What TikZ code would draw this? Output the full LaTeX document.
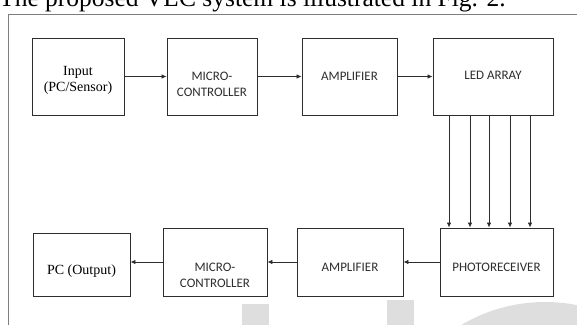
\documentclass[tikz,border=0pt]{standalone}
\usepackage{fontspec}
\setmainfont{Liberation Serif}
\newfontfamily\capsfont{Carlito}
\usetikzlibrary{arrows.meta}
\definecolor{framegray}{RGB}{125,125,125}
\definecolor{markgray}{RGB}{222,222,222}
\definecolor{boxline}{RGB}{45,45,45}

\begin{document}
\begin{tikzpicture}[x=1pt,y=-1pt,
    box/.style={draw=boxline,line width=0.9pt,inner sep=0pt},
    caps/.style={font=\capsfont\fontsize{13}{16}\selectfont,align=center,text=boxline},
    serif/.style={font=\fontsize{14}{16.5}\selectfont,align=center},
    arr/.style={-{Latex[length=5pt,width=4.5pt]},line width=0.8pt,boxline}]
  \useasboundingbox (0,0) rectangle (577,324);
  \clip (0,0) rectangle (577,324);
  % page around the figure: cut caption, frame, watermark
  \node[anchor=base west,inner sep=0pt,font=\fontsize{25.5}{30}\selectfont] (caption) at (-1,6)
    {The proposed VLC system is illustrated in Fig. 2.};
  \fill[markgray] (242,304) rectangle (269,330);
  \fill[markgray] (387,300) rectangle (414,330);
  \fill[markgray] (545,466) circle (164);
  \draw[framegray,line width=1pt] (8,14) rectangle (600,340);
  % transmitter chain
  \node[box,minimum width=92pt,minimum height=77pt,
    label={[serif,name=inptxt,yshift=-4pt]center:Input\\(PC/Sensor)}] (inp) at (78,76.5) {};
  \node[box,minimum width=90pt,minimum height=77pt,
    label={[caps,name=mctxt,yshift=-8pt]center:MICRO-\\CONTROLLER}] (mc) at (212,76.5) {};
  \node[box,minimum width=95pt,minimum height=77pt,
    label={[caps,name=amptxt]center:AMPLIFIER}] (amp) at (349.5,76.5) {};
  \node[box,minimum width=120pt,minimum height=77pt,
    label={[caps,name=ledtxt,yshift=1pt]center:LED ARRAY}] (led) at (493,76.5) {};
  % receiver chain
  \node[box,minimum width=113pt,minimum height=68pt,
    label={[caps,name=phtxt,yshift=-5pt]center:PHOTORECEIVER}] (photo) at (496.5,262) {};
  \node[box,minimum width=106pt,minimum height=68pt,
    label={[caps,name=ampbtxt,yshift=-5pt]center:AMPLIFIER}] (ampb) at (350,262) {};
  \node[box,minimum width=104pt,minimum height=68pt,
    label={[caps,name=mcbtxt,yshift=-13pt]center:MICRO-\\CONTROLLER}] (mcb) at (215,262) {};
  \node[box,minimum width=97pt,minimum height=63pt,
    label={[serif,name=pctxt,yshift=-7pt]center:PC (Output)}] (pc) at (81.5,264.5) {};
  % links
  \draw[arr] (inp) -- (mc);
  \draw[arr] (mc) -- (amp);
  \draw[arr] (amp) -- (led);
  \foreach \x [count=\i] in {449,470,489,510,530} {
    \coordinate (ray\i) at (\x,0);
    \draw[arr] (led.south -| ray\i) -- (photo.north -| ray\i);
  }
  \draw[arr] (photo) -- (ampb);
  \draw[arr] (ampb) -- (mcb);
  \draw[arr] (mcb.west) -- (mcb.west -| pc.east);
\end{tikzpicture}
\end{document}
